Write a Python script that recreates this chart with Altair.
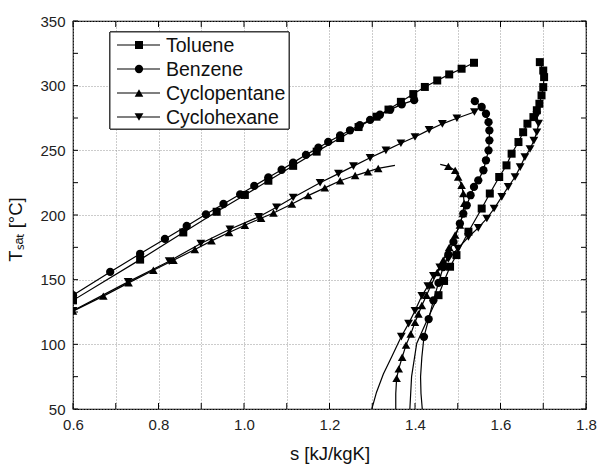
import altair as alt
import pandas as pd

# ---------------- data ----------------
names = ["Toluene", "Benzene", "Cyclopentane", "Cyclohexane"]
shapes = ["square", "circle", "triangle-up", "triangle-down"]
marker_sizes = [64, 78, 88, 88]
legend_rows = [0, 1, 2, 3]

x_grid = [0.6, 0.7, 0.8, 0.9, 1.0, 1.1, 1.2, 1.3, 1.4, 1.5, 1.6, 1.7, 1.8]
y_grid = [50, 75, 100, 125, 150, 175, 200, 225, 250, 275, 300, 325, 350]

# Toluene
tol_liq_s = [0.600, 0.757, 0.858, 0.936, 1.002, 1.057, 1.115, 1.170, 1.225, 1.268,
             1.310, 1.338, 1.367, 1.396, 1.423, 1.452, 1.480, 1.509, 1.538]
tol_liq_T = [134.0, 165.5, 186.5, 202.5, 215.5, 226.5, 238.0, 249.0, 259.5, 268.0,
             276.0, 281.5, 287.5, 293.5, 299.0, 304.0, 308.7, 313.1, 317.7]
tol_vap_s = [1.692, 1.700, 1.702, 1.700, 1.696, 1.691, 1.685, 1.677, 1.663, 1.653,
             1.642, 1.626, 1.614, 1.597, 1.575, 1.556, 1.525, 1.497, 1.482, 1.468, 1.455]
tol_vap_T = [318.2, 311.7, 306.6, 298.9, 292.5, 286.0, 281.0, 275.7, 270.6, 264.0,
             256.4, 247.4, 238.4, 229.4, 216.6, 205.0, 187.1, 169.0, 160.0, 149.0, 138.0]
tol_tail_s = [1.430, 1.404, 1.392, 1.388]
tol_tail_T = [120.0, 100.7, 75.0, 50.0]

# Benzene
ben_liq_s = [0.600, 0.687, 0.757, 0.815, 0.866, 0.911, 0.952, 0.991, 1.024, 1.057,
             1.088, 1.115, 1.145, 1.174, 1.197, 1.225, 1.248, 1.271, 1.295, 1.318,
             1.342, 1.369, 1.398]
ben_liq_T = [138.0, 156.0, 170.0, 181.5, 191.5, 200.5, 208.5, 216.0, 222.5, 229.0,
             235.0, 240.5, 246.5, 252.0, 256.5, 261.5, 265.5, 269.5, 273.5, 277.5,
             281.5, 285.5, 288.8]
ben_vap_s = [1.540, 1.556, 1.566, 1.572, 1.574, 1.574, 1.572, 1.566, 1.560, 1.548,
             1.538, 1.530, 1.521, 1.513, 1.505, 1.490, 1.478, 1.466, 1.455, 1.443,
             1.432, 1.421]
ben_vap_T = [288.0, 283.5, 278.3, 271.8, 265.4, 257.7, 250.0, 242.3, 234.6, 226.8,
             221.7, 215.3, 207.5, 201.1, 193.4, 179.2, 169.5, 159.8, 147.5, 134.0,
             119.5, 105.8]
ben_tail_s = [1.416, 1.413, 1.414, 1.417]
ben_tail_T = [90.0, 75.0, 62.0, 50.0]

# Cyclopentane
cp_liq_s = [0.600, 0.671, 0.730, 0.788, 0.835, 0.885, 0.924, 0.965, 1.002, 1.040,
            1.069, 1.112, 1.150, 1.189, 1.225, 1.260, 1.290, 1.314]
cp_liq_T = [125.7, 137.3, 147.5, 157.3, 165.0, 173.3, 180.0, 186.5, 192.1, 197.5,
            201.5, 208.5, 215.0, 221.0, 226.5, 230.5, 233.5, 236.0]
cp_liq_end_s = [1.353]
cp_liq_end_T = [238.4]
cp_vap_head_s = [1.459]
cp_vap_head_T = [239.2]
cp_vap_s = [1.478, 1.494, 1.501, 1.509, 1.513, 1.515, 1.512, 1.505, 1.494, 1.480,
            1.466, 1.452, 1.438, 1.427, 1.416, 1.408, 1.400, 1.390, 1.379, 1.370,
            1.362, 1.357]
cp_vap_T = [237.6, 234.5, 229.4, 223.0, 216.6, 209.0, 201.2, 192.2, 184.5, 175.0,
            165.0, 155.5, 146.0, 138.0, 130.0, 123.5, 117.0, 108.0, 99.4, 90.0,
            81.0, 73.7]
cp_tail_s = [1.355, 1.355]
cp_tail_T = [62.0, 50.0]

# Cyclohexane
ch_liq_s = [0.600, 0.729, 0.825, 0.899, 0.967, 1.034, 1.076, 1.115, 1.178, 1.221,
            1.256, 1.295, 1.332, 1.367, 1.400, 1.433, 1.464, 1.498, 1.539]
ch_liq_T = [126.0, 148.3, 164.3, 178.0, 189.0, 198.5, 206.0, 213.5, 224.9, 232.0,
            237.8, 244.2, 250.0, 255.5, 260.3, 265.8, 270.5, 274.8, 279.6]
ch_vap_s = [1.685, 1.689, 1.685, 1.678, 1.669, 1.657, 1.646, 1.634, 1.618, 1.603,
            1.585, 1.568, 1.548, 1.525, 1.500, 1.478, 1.458, 1.443, 1.430, 1.416,
            1.400, 1.385, 1.368]
ch_vap_T = [277.0, 270.6, 264.0, 257.5, 251.0, 244.8, 237.0, 229.4, 221.7, 214.0,
            205.0, 197.3, 190.0, 183.0, 174.0, 166.0, 159.5, 153.0, 145.0, 137.5,
            126.0, 116.0, 106.0]
ch_tail_s = [1.345, 1.326, 1.310, 1.299]
ch_tail_T = [90.0, 77.0, 63.0, 50.0]

# ---------------- table ----------------
branches = [
    ("Toluene", "liq", [(tol_liq_s, tol_liq_T, True)]),
    ("Toluene", "vap", [(tol_vap_s, tol_vap_T, True), (tol_tail_s, tol_tail_T, False)]),
    ("Benzene", "liq", [(ben_liq_s, ben_liq_T, True)]),
    ("Benzene", "vap", [(ben_vap_s, ben_vap_T, True), (ben_tail_s, ben_tail_T, False)]),
    ("Cyclopentane", "liq", [(cp_liq_s, cp_liq_T, True), (cp_liq_end_s, cp_liq_end_T, False)]),
    ("Cyclopentane", "vap", [(cp_vap_head_s, cp_vap_head_T, False), (cp_vap_s, cp_vap_T, True),
                             (cp_tail_s, cp_tail_T, False)]),
    ("Cyclohexane", "liq", [(ch_liq_s, ch_liq_T, True)]),
    ("Cyclohexane", "vap", [(ch_vap_s, ch_vap_T, True), (ch_tail_s, ch_tail_T, False)]),
]
rows = []
for fluid, br, parts in branches:
    i = 0
    for ss, tt, mk in parts:
        for s_, t_ in zip(ss, tt):
            rows.append({"fluid": fluid, "key": fluid + "_" + br, "idx": i,
                         "s": s_, "T": t_, "marker": mk})
            i += 1
df = pd.DataFrame(rows)

FONT = "Liberation Sans"
W, H = 513, 388

xscale = alt.Scale(domain=[0.6, 1.8], nice=False, zero=False)
yscale = alt.Scale(domain=[50, 350], nice=False, zero=False)

shape_scale = alt.Scale(domain=names, range=shapes)
size_scale = alt.Scale(domain=names, range=marker_sizes)

lines = alt.Chart(df).mark_line(color="black", strokeWidth=1.2, clip=True).encode(
    x=alt.X("s:Q", scale=xscale,
            axis=alt.Axis(values=x_grid, title="s [kJ/kgK]",
                          labelExpr="abs(round(datum.value*10)) % 2 == 0 ? format(datum.value, '.1f') : ''",
                          labelPadding=8, titlePadding=12, labelFlush=False)),
    y=alt.Y("T:Q", scale=yscale,
            axis=alt.Axis(values=y_grid, title="Tₛₐₜ [°C]",
                          labelExpr="datum.value % 50 == 0 ? datum.label : ''",
                          labelPadding=8, labelFlush=False, titleX=-52, titleY=208,
                          titleBaseline="alphabetic", titleAlign="center")),
    detail="key:N",
    order="idx:Q",
)

points = alt.Chart(df).transform_filter("datum.marker").mark_point(
    filled=True, color="black", opacity=1, clip=True
).encode(
    x=alt.X("s:Q", scale=xscale),
    y=alt.Y("T:Q", scale=yscale),
    shape=alt.Shape("fluid:N", scale=shape_scale, legend=None),
    size=alt.Size("fluid:N", scale=size_scale, legend=None),
)

xt = pd.DataFrame({"s": x_grid})
yt = pd.DataFrame({"T": y_grid})
tick_bottom = alt.Chart(xt).mark_rule(color="black", strokeWidth=1).encode(
    x=alt.X("s:Q", scale=xscale), y=alt.value(H), y2=alt.value(H - 6))
tick_top = alt.Chart(xt).mark_rule(color="black", strokeWidth=1).encode(
    x=alt.X("s:Q", scale=xscale), y=alt.value(0), y2=alt.value(6))
tick_left = alt.Chart(yt).mark_rule(color="black", strokeWidth=1).encode(
    y=alt.Y("T:Q", scale=yscale), x=alt.value(0), x2=alt.value(5))
tick_right = alt.Chart(yt).mark_rule(color="black", strokeWidth=1).encode(
    y=alt.Y("T:Q", scale=yscale), x=alt.value(W), x2=alt.value(W - 5))

main = alt.layer(lines, points, tick_bottom, tick_top, tick_left, tick_right)

# ---------------- legend ----------------
leg = pd.DataFrame({"fluid": names, "row": legend_rows})
ly = alt.Y("row:Q", scale=alt.Scale(domain=[0, 3], range=[24, 96], nice=False, zero=False), axis=None)
leg_box = alt.Chart(leg).mark_rect(fill="white", stroke="#333333", strokeWidth=1).encode(
    x=alt.value(37), x2=alt.value(216), y=alt.value(11), y2=alt.value(108))
leg_line = alt.Chart(leg).mark_rule(color="black", strokeWidth=1.2).encode(
    x=alt.value(44), x2=alt.value(87), y=ly)
leg_pt = alt.Chart(leg).mark_point(filled=True, color="black", opacity=1).encode(
    x=alt.value(66), y=ly,
    shape=alt.Shape("fluid:N", scale=shape_scale, legend=None),
    size=alt.Size("fluid:N", scale=size_scale, legend=None))
leg_txt = alt.Chart(leg).mark_text(align="left", baseline="middle", font=FONT,
                                   fontSize=19.5, color="#111111", dy=1).encode(
    x=alt.value(93), y=ly, text="fluid:N")
legend = alt.layer(leg_box, leg_line, leg_pt, leg_txt)

chart = alt.layer(main, legend).resolve_scale(
    y="independent", shape="independent", size="independent"
).properties(
    width=W, height=H,
    autosize=alt.AutoSizeParams(type="none"),
    padding={"left": 73, "top": 21, "right": 13, "bottom": 56},
    background="white",
).configure_view(
    stroke="black", strokeWidth=1.2
).configure_axis(
    domain=False, ticks=False, grid=True,
    gridColor="#999999", gridDash=[1, 2], gridWidth=1,
    labelFont=FONT, labelFontSize=15, labelColor="#222222",
    titleFont=FONT, titleFontSize=18.5, titleFontWeight="normal", titleColor="#111111",
)

chart.save("out.html", embed_options={"renderer": "svg", "actions": False})
